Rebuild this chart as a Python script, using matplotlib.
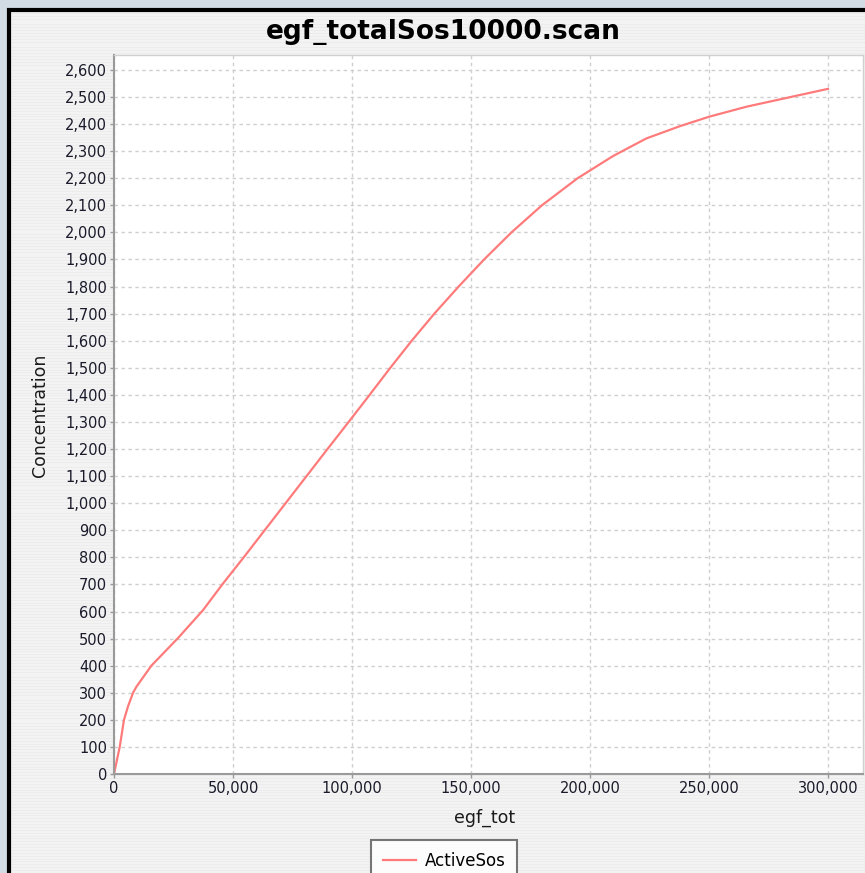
import matplotlib.pyplot as plt
import matplotlib.ticker as ticker
from matplotlib.patches import Rectangle
import numpy as np

# egf_tot scan values
egf_tot = [0, 2400, 4200, 5900, 8000, 9400, 15700, 26900, 37400, 45500,
           54500, 63300, 72100, 80900, 89700, 98600, 107400, 116100, 125100,
           134600, 144800, 155500, 167000, 179800, 194800, 209700, 223700,
           237700, 250000, 265700, 279700, 300000]
active_sos = [0, 100, 200, 250, 300, 322, 400, 502, 605, 700,
              800, 900, 1000, 1100, 1200, 1300, 1400, 1500, 1600,
              1700, 1800, 1900, 2000, 2100, 2200, 2282, 2347,
              2392, 2427, 2464, 2491, 2530]

x_ticks = list(range(0, 300001, 50000))
y_ticks = list(range(0, 2601, 100))

W, H = 865, 873
fig = plt.figure(figsize=(W / 100, H / 100), dpi=100)
fig.patch.set_facecolor('#d2dce4')

# light striped chart panel with black frame
bg = fig.add_axes([9 / W, 0, 1 - 9 / W, 1 - 10 / H])
stripes = np.tile(np.array([[0.925], [0.95], [0.95]]), (300, 1))
bg.imshow(stripes, cmap='gray', vmin=0, vmax=1, aspect='auto',
          extent=[0, 1, 0, 1], interpolation='nearest')
bg.set_xlim(0, 1)
bg.set_ylim(0, 1)
bg.axis('off')
fig.add_artist(Rectangle((9 / W, -0.01), 1.0, 1 - 10 / H + 0.01,
                         transform=fig.transFigure, fill=False,
                         edgecolor='black', linewidth=3, zorder=5))

ax = fig.add_axes([114 / W, 99 / H, (863 - 114) / W, (774 - 55) / H])
ax.set_facecolor('white')
ax.plot(egf_tot, active_sos, color='#ff7b7b', linewidth=1.6, label='ActiveSos')

ax.set_xlim(0, 314700)
ax.set_ylim(0, 2655)
ax.set_xticks(x_ticks)
ax.set_yticks(y_ticks)
fmt = ticker.FuncFormatter(lambda v, p: f'{int(v):,}')
ax.xaxis.set_major_formatter(fmt)
ax.yaxis.set_major_formatter(fmt)
ax.tick_params(axis='both', labelsize=10.5, colors='#999999', labelcolor='#1a1a2a',
               length=3, width=1, direction='out', pad=2)
ax.grid(True, color='#cfcfcf', linestyle=(0, (2.5, 2.5)), linewidth=1)

for side in ['left', 'bottom']:
    ax.spines[side].set_color('#9a9a9a')
    ax.spines[side].set_linewidth(1.5)
for side in ['top', 'right']:
    ax.spines[side].set_color('#d0d0d0')
    ax.spines[side].set_linewidth(1)

fig.text(443 / W, 1 - 32 / H, 'egf_totalSos10000.scan', fontsize=19,
         fontweight='bold', ha='center', va='center')
fig.text(485 / W, 1 - 818 / H, 'egf_tot', fontsize=12.5,
         ha='center', va='center', color='#1a1a1a')
fig.text(40 / W, 1 - 415 / H, 'Concentration', fontsize=12.5, rotation=90,
         ha='center', va='center', color='#1a1a1a')

leg = fig.legend(loc='upper center', bbox_to_anchor=(444 / W, 1 - 840 / H),
                 fontsize=12, frameon=True, fancybox=False, handlelength=2.0,
                 borderpad=0.7, handletextpad=0.5, borderaxespad=0)
leg.get_frame().set_edgecolor('#555555')
leg.get_frame().set_linewidth(1.5)
leg.get_frame().set_facecolor('white')

fig.savefig('out.png', dpi=100, facecolor=fig.get_facecolor())
